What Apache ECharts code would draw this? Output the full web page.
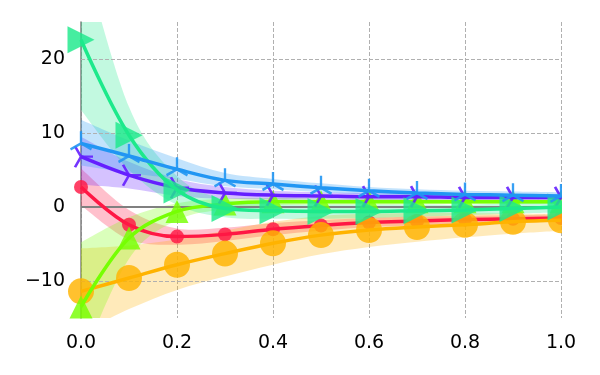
<!DOCTYPE html>
<html>
<head>
<meta charset="utf-8">
<script src="https://cdn.jsdelivr.net/npm/echarts@6/dist/echarts.min.js"></script>
<style>
  html, body { margin: 0; padding: 0; background: #fff; }
  #chart { width: 600px; height: 375px; }
</style>
</head>
<body>
<div id="chart"></div>
<script>
  // x positions of the markers
  const xs = [0, 0.1, 0.2, 0.3, 0.4, 0.5, 0.6, 0.7, 0.8, 0.9, 1.0]

  const red      = [2.7, -2.4, -4.0, -3.7, -3.0, -2.5, -2.1, -1.9, -1.7, -1.6, -1.5]
  const redLo    = [0.2, -4.4, -5.1, -4.6, -3.8, -3.2, -2.7, -2.5, -2.2, -2.1, -2.0]
  const redHi    = [5.2, -0.4, -2.9, -2.8, -2.2, -1.8, -1.5, -1.3, -1.2, -1.1, -1.0]

  const orange   = [-11.4, -9.6, -7.8, -6.3, -4.9, -3.8, -3.1, -2.7, -2.4, -2.0, -1.8]
  const orangeLo = [-17.0, -13.8, -11.2, -9.4, -7.8, -6.4, -5.4, -4.7, -4.1, -3.6, -3.2]
  const orangeHi = [-5.6, -5.2, -4.4, -3.2, -2.0, -1.2, -0.9, -0.8, -0.8, -0.9, -0.9]

  const lime     = [-13.5, -4.2, -0.6, 0.4, 0.7, 0.7, 0.7, 0.7, 0.7, 0.7, 0.7]
  const limeLo   = [-21.0, -7.0, -1.8, -0.3, 0.2, 0.3, 0.3, 0.35, 0.4, 0.4, 0.4]
  const limeHi   = [-4.8, -1.4, 0.5, 1.1, 1.2, 1.1, 1.1, 1.05, 1.0, 1.0, 1.0]

  const purple   = [6.8, 4.3, 2.6, 1.9, 1.6, 1.5, 1.4, 1.4, 1.3, 1.3, 1.3]
  const purpleLo = [3.0, 2.5, 1.5, 1.1, 1.0, 1.0, 0.9, 0.9, 0.9, 0.9, 0.9]
  const purpleHi = [9.5, 6.1, 3.8, 2.7, 2.2, 2.0, 1.9, 1.8, 1.7, 1.7, 1.7]

  const teal     = [22.6, 9.7, 2.3, -0.2, -0.5, -0.6, -0.6, -0.5, -0.4, -0.2, 0.0]
  const tealLo   = [13.1, 5.0, 0.3, -1.4, -1.6, -1.6, -1.5, -1.3, -1.1, -0.9, -0.7]
  const tealHi   = [35.0, 13.5, 4.2, 1.0, 0.4, 0.3, 0.3, 0.3, 0.3, 0.5, 0.7]

  const blue     = [8.6, 6.9, 5.1, 3.6, 3.1, 2.6, 2.2, 1.9, 1.7, 1.6, 1.5]
  const blueLo   = [5.6, 4.6, 3.8, 2.8, 2.4, 2.0, 1.7, 1.4, 1.2, 1.1, 1.0]
  const blueHi   = [11.8, 9.0, 6.6, 4.6, 3.8, 3.2, 2.7, 2.4, 2.2, 2.1, 2.0]

  const yGridValues = [-10, 10, 20]

  const TRI_UP = 'path://M0,-12L0,0L-10.4,6M0,0L10.4,6M0,12'
  const TRI_RIGHT = 'path://M12,0L0,0L-6,-10.4M0,0L-6,10.4M-12,0'

  // drawing order follows the reference: later groups on top
  const groups = [
    { name: 'red', color: '#ff1744', y: red, lo: redLo, hi: redHi, symbol: 'circle', size: 14 },
    { name: 'orange', color: '#ffb300', y: orange, lo: orangeLo, hi: orangeHi, symbol: 'circle', size: 26 },
    { name: 'lime', color: '#76ff03', y: lime, lo: limeLo, hi: limeHi, symbol: 'triangle', size: 23 },
    { name: 'purple', color: '#651fff', y: purple, lo: purpleLo, hi: purpleHi, symbol: TRI_RIGHT, size: [24, 21], stroke: true },
    { name: 'teal', color: '#1de98b', y: teal, lo: tealLo, hi: tealHi, symbol: 'triangle', size: 27, rotate: -90 },
    { name: 'blue', color: '#2196f3', y: blue, lo: blueLo, hi: blueHi, symbol: TRI_UP, size: [21, 24], stroke: true }
  ]

  const SMOOTH = 0.17
  // bezier path through pixel points (same idea as the line smoothing)
  function curve(pts, cmd) {
    let d = cmd + pts[0][0] + ',' + pts[0][1]
    for (let i = 0; i < pts.length - 1; i++) {
      const p0 = pts[Math.max(i - 1, 0)], p1 = pts[i], p2 = pts[i + 1], p3 = pts[Math.min(i + 2, pts.length - 1)]
      const c1 = [p1[0] + (p2[0] - p0[0]) * SMOOTH, p1[1] + (p2[1] - p0[1]) * SMOOTH]
      const c2 = [p2[0] - (p3[0] - p1[0]) * SMOOTH, p2[1] - (p3[1] - p1[1]) * SMOOTH]
      d += 'C' + c1[0] + ',' + c1[1] + ',' + c2[0] + ',' + c2[1] + ',' + p2[0] + ',' + p2[1]
    }
    return d
  }

  const pair = (arr) => xs.map((x, i) => [x, arr[i]])

  let series = []
  // reference lines: dashed grid rows and the solid zero line
  series.push({
    type: 'line',
    data: [],
    z: 1,
    markLine: {
      silent: true,
      symbol: 'none',
      label: { show: false },
      data: yGridValues.map(v => ({ yAxis: v, lineStyle: { color: '#b0b0b0', type: [4, 2], width: 1 } }))
        .concat([{ yAxis: 0, lineStyle: { color: '#808080', type: 'solid', width: 2 } }])
    }
  })

  groups.forEach((g) => {
    series.push({
      type: 'custom',
      name: g.name + '-band',
      data: [[0, 0]],
      clip: true,
      silent: true,
      z: 2,
      renderItem: function (params, api) {
        const up = xs.map((x, i) => api.coord([x, g.hi[i]]))
        const dn = xs.map((x, i) => api.coord([x, g.lo[i]])).reverse()
        return {
          type: 'path',
          shape: { pathData: curve(up, 'M') + curve(dn, 'L') + 'Z' },
          style: { fill: g.color, opacity: 0.27 }
        }
      }
    })
  })

  groups.forEach((g, gi) => {
    series.push({
      type: 'line',
      name: g.name,
      data: pair(g.y),
      smooth: 0.35,
      symbol: g.symbol,
      symbolSize: g.size,
      symbolRotate: g.rotate || 0,
      showAllSymbol: true,
      lineStyle: { color: g.color, width: 3.5 },
      itemStyle: g.stroke
        ? { color: 'none', borderColor: g.color, borderWidth: 2.5, opacity: 0.9 }
        : { color: g.color, borderWidth: 0, opacity: 0.82 },
      z: 10 + gi
    })
  })

  const chart = echarts.init(document.getElementById('chart'))
  chart.setOption({
    animation: false,
    backgroundColor: '#fff',
    textStyle: { fontFamily: 'DejaVu Sans' },
    grid: { left: 81, right: 39, top: 22, bottom: 57 },
    xAxis: {
      type: 'value',
      min: 0,
      max: 1,
      interval: 0.2,
      axisLine: { show: false },
      axisTick: { show: false },
      axisLabel: {
        color: '#000',
        fontSize: 19,
        margin: 16,
        formatter: v => v.toFixed(1)
      },
      splitLine: { show: true, lineStyle: { color: '#b0b0b0', type: [4, 2], width: 1 } }
    },
    yAxis: {
      type: 'value',
      min: -15,
      max: 25,
      interval: 5,
      axisLine: { show: true, onZero: false, lineStyle: { color: '#808080', width: 1.5 } },
      axisTick: { show: false },
      axisLabel: {
        color: '#000',
        fontSize: 19,
        margin: 16,
        formatter: v => (v % 10 === 0 ? (v < 0 ? '\u2212' + Math.abs(v) : String(v)) : '')
      },
      splitLine: { show: false }
    },
    // markers at x = 1.0 are cut at the plot edge in the reference
    graphic: [{
      type: 'rect',
      shape: { x: 562, y: 0, width: 38, height: 320 },
      style: { fill: '#fff' },
      z: 100,
      silent: true
    }],
    series: series
  })
</script>
</body>
</html>
